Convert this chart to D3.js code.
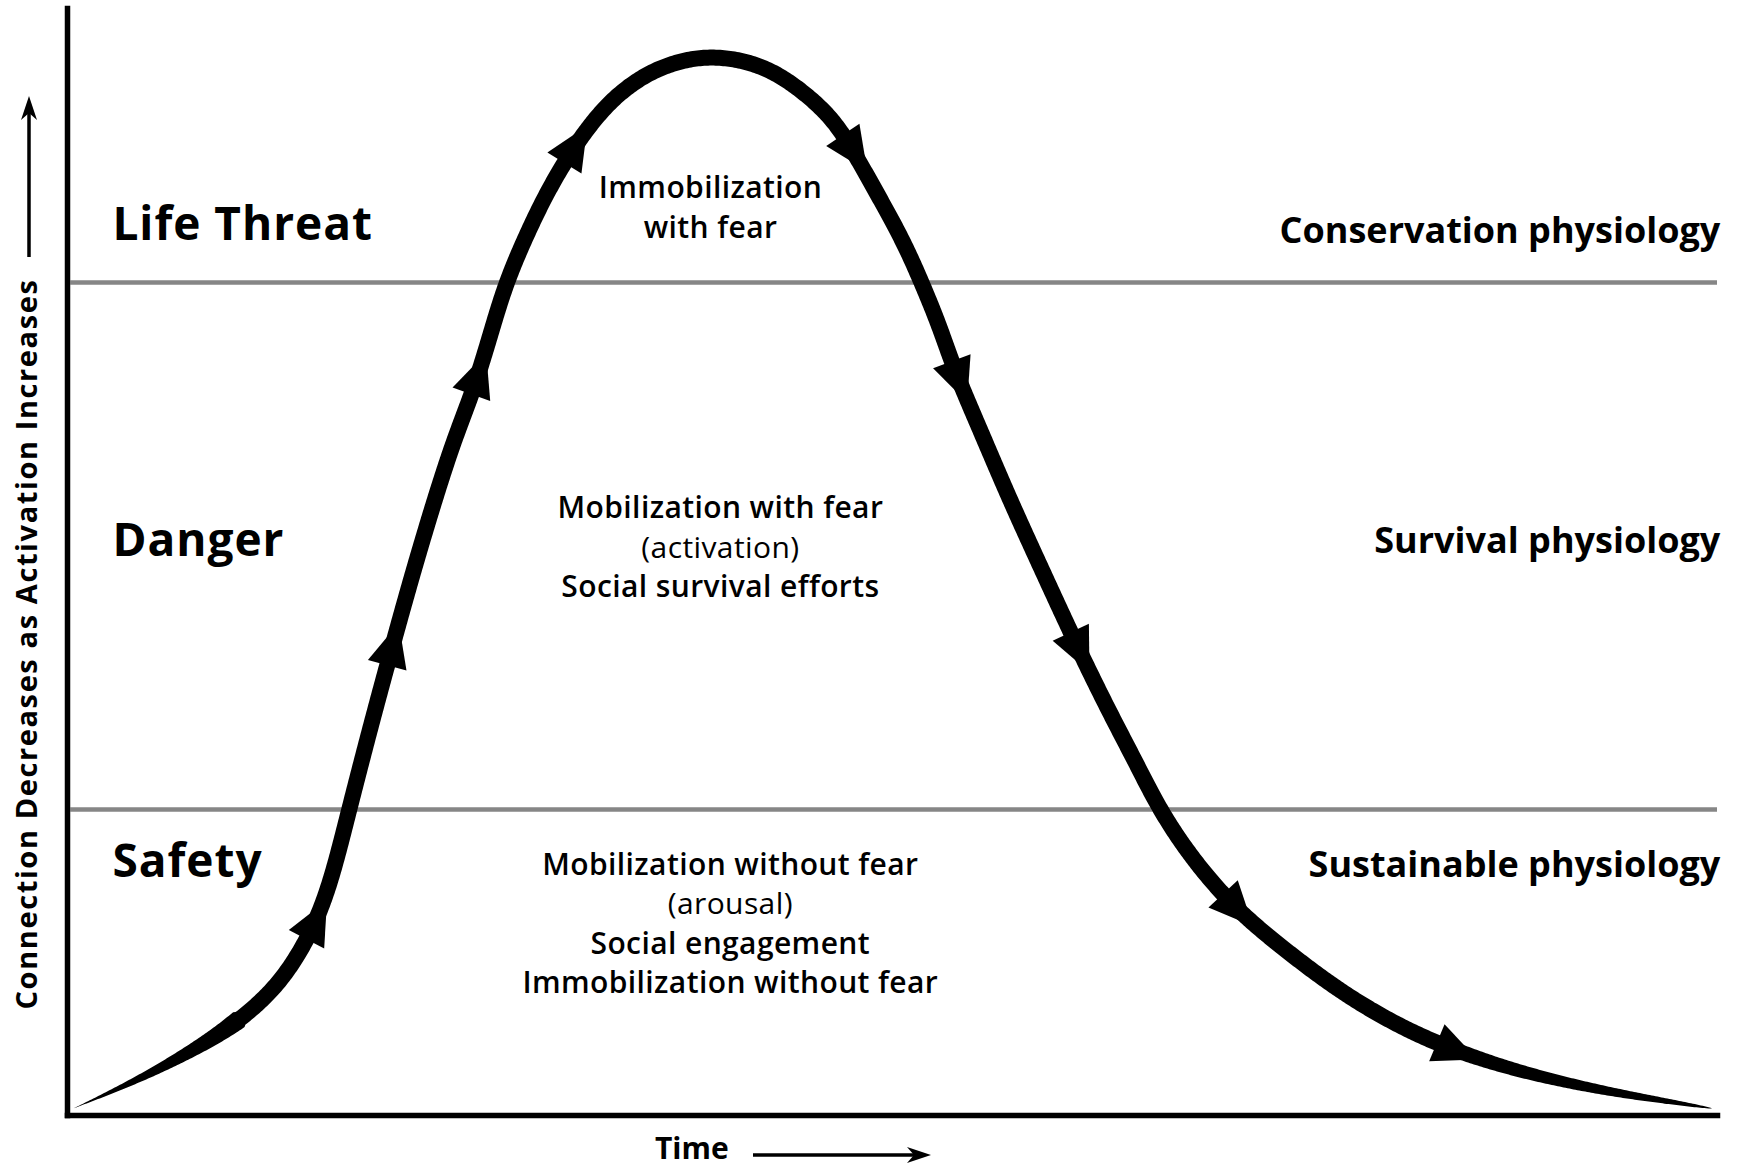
<!DOCTYPE html>
<html>
<head>
<meta charset="utf-8">
<script src="https://cdn.jsdelivr.net/npm/d3@7"></script>
<style>
  body { margin: 0; background: #fff; }
  text { font-family: "Open Sans", Lato, sans-serif; fill: #000; }
</style>
</head>
<body>
<div id="wrapper"></div>
<script>
/*global d3*/

// 1. Data (time and activation, both 0-100)
const curveTime = [0.4, 4.7, 9.4, 12.1, 13.7, 15.1, 16.1, 17.1, 18.4, 19.6, 20.9, 22.3, 23.5, 24.7, 25.7, 26.6, 27.9, 29.2, 30.9, 32.9, 35.2, 37.3, 38.9, 40.6, 42.6, 44.6, 46.5, 47.8, 49.3, 50.7, 51.8, 52.9, 53.8, 55.4, 57.1, 59.1, 61.1, 63.1, 64.8, 66.2, 68.2, 70.8, 73.9, 77.2, 80.6, 83.9, 88.0, 92.7, 96.7, 99.7]
const curveActivation = [0.6, 3.4, 7.3, 10.6, 13.6, 17.4, 21.6, 27.6, 35.1, 41.7, 48.7, 55.7, 61.2, 65.7, 70.7, 75.2, 79.7, 83.7, 87.9, 91.7, 94.2, 95.3, 95.6, 95.4, 94.5, 92.5, 89.9, 86.7, 82.7, 78.9, 75.2, 71.2, 67.2, 61.7, 55.7, 49.2, 42.7, 36.6, 31.8, 27.6, 23.1, 18.6, 14.8, 11.1, 8.1, 5.9, 3.9, 2.3, 1.3, 0.6]
const arrowTimes = [14.5, 19.4, 24.5, 30.1, 47.0, 53.6, 60.8, 70.0, 83.0]

const zoneNames = ["Safety", "Danger", "Life Threat"]
const zoneLimits = [27.6, 75.2]
const physiologyNames = ["Sustainable physiology", "Survival physiology", "Conservation physiology"]
const zoneStates = [
    ["Mobilization without fear", "(arousal)", "Social engagement", "Immobilization without fear"],
    ["Mobilization with fear", "(activation)", "Social survival efforts"],
    ["Immobilization", "with fear"],
]
const yAxisTitle = "Connection Decreases as Activation Increases"
const xAxisTitle = "Time"

// 2. dims
const dims = { width: 1738, height: 1168 }

// label anchors in data units
const zoneLabelY = [21.5, 50.5, 79.0]
const physLabelY = [21.5, 50.8, 78.8]
const stateCenterT = [40.2, 39.6, 39.0]
const stateFirstY = [21.7, 53.9, 82.8]

// 3. canvas
const svg = d3.select("#wrapper")
    .append("svg")
    .attr("width", dims.width)
    .attr("height", dims.height)

// 4. scales
const xScale = d3.scaleLinear().domain([0, 100]).range([67, 1717])
const yScale = d3.scaleLinear().domain([0, 100]).range([1115, 8])
const lineGap = 39.5

// zone lines
svg.selectAll("line.zone")
    .data(zoneLimits)
    .join("line")
    .attr("class", "zone")
    .attr("x1", xScale(0.2))
    .attr("x2", xScale(100))
    .attr("y1", d => yScale(d))
    .attr("y2", d => yScale(d))
    .attr("stroke", "#868686")
    .attr("stroke-width", 4.5)

// axes
svg.append("g")
    .attr("transform", `translate(${xScale(0)},0)`)
    .call(d3.axisLeft(yScale).ticks(0).tickSizeOuter(0))
svg.append("g")
    .attr("transform", `translate(0,${yScale(0)})`)
    .call(d3.axisBottom(xScale).ticks(0).tickSizeOuter(0))
svg.selectAll(".domain")
    .attr("stroke", "#000")
    .attr("stroke-width", 5.5)
    .attr("stroke-linecap", "square")

// 5. curve
const points = curveTime.map((t, i) => ({ t, a: curveActivation[i] }))
const lineGen = d3.line()
    .x(d => xScale(d.t))
    .y(d => yScale(d.a))
    .curve(d3.curveBasis)

const guide = svg.append("path")
    .attr("d", lineGen(points))
    .attr("fill", "none")
    .attr("stroke", "none")
const node = guide.node()
const total = node.getTotalLength()
const samples = d3.range(0, total, 2).concat([total]).map(s => {
    const p = node.getPointAtLength(s)
    return { s, x: p.x, y: p.y }
})

function widthAt(s) {
    const fromEnd = total - s
    if (s < 190) return 19 * s / 190
    if (fromEnd < 280) return 16 * Math.pow(Math.max(fromEnd, 0) / 280, 0.6)
    return 16
}
function tangentAt(i) {
    const a = samples[Math.max(i - 2, 0)]
    const b = samples[Math.min(i + 2, samples.length - 1)]
    const dx = b.x - a.x, dy = b.y - a.y
    const len = Math.hypot(dx, dy) || 1
    return [dx / len, dy / len]
}
const leftSide = [], rightSide = []
samples.forEach((p, i) => {
    const [tx, ty] = tangentAt(i)
    const w = widthAt(p.s) / 2
    leftSide.push([p.x - ty * w, p.y + tx * w])
    rightSide.push([p.x + ty * w, p.y - tx * w])
})
svg.append("path")
    .attr("d", d3.line()(leftSide.concat(rightSide.reverse())) + "Z")
    .attr("fill", "#000")

// arrowheads
const bisectX = d3.bisector(d => d.x).left
svg.selectAll("path.arrow")
    .data(arrowTimes)
    .join("path")
    .attr("class", "arrow")
    .attr("fill", "#000")
    .attr("d", t => {
        const i = Math.min(bisectX(samples, xScale(t)), samples.length - 1)
        const p = samples[i]
        const [tx, ty] = tangentAt(i)
        const len = 44, half = 20
        return d3.line()([
            [p.x + tx * len, p.y + ty * len],
            [p.x - ty * half, p.y + tx * half],
            [p.x + ty * half, p.y - tx * half],
        ]) + "Z"
    })

// zone labels
svg.selectAll("text.zone")
    .data(zoneNames)
    .join("text")
    .attr("class", "zone")
    .attr("x", xScale(2.75))
    .attr("y", (d, i) => yScale(zoneLabelY[i]))
    .style("font-size", "46px")
    .style("font-weight", 700)
    .style("letter-spacing", "1px")
    .text(d => d)

svg.selectAll("text.phys")
    .data(physiologyNames)
    .join("text")
    .attr("class", "phys")
    .attr("x", xScale(100.2))
    .attr("y", (d, i) => yScale(physLabelY[i]))
    .attr("text-anchor", "end")
    .style("font-size", "36px")
    .style("font-weight", 700)
    .text(d => d)

// state blocks
zoneStates.forEach((lines, z) => {
    svg.append("g")
        .selectAll("text")
        .data(lines)
        .join("text")
        .attr("x", xScale(stateCenterT[z]))
        .attr("y", (d, i) => yScale(stateFirstY[z]) + i * lineGap)
        .attr("text-anchor", "middle")
        .style("font-size", "30px")
        .style("font-weight", d => d.startsWith("(") ? 400 : 600)
        .style("letter-spacing", "0.4px")
        .text(d => d)
})

// axis titles
svg.append("g")
    .attr("transform", "translate(37,644) rotate(-90)")
    .append("text")
    .attr("text-anchor", "middle")
    .style("font-size", "29px")
    .style("font-weight", 700)
    .style("letter-spacing", "1.6px")
    .text(yAxisTitle)

svg.append("text")
    .attr("x", 655)
    .attr("y", 1159)
    .style("font-size", "30px")
    .style("font-weight", 700)
    .text(xAxisTitle)

// direction arrows
function drawArrow(x1, y1, x2, y2) {
    const dx = x2 - x1, dy = y2 - y1
    const len = Math.hypot(dx, dy)
    const ux = dx / len, uy = dy / len
    const hl = 21, hw = 8
    const bx = x2 - ux * hl, by = y2 - uy * hl
    svg.append("line")
        .attr("x1", x1).attr("y1", y1)
        .attr("x2", bx + ux * 4).attr("y2", by + uy * 4)
        .attr("stroke", "#000")
        .attr("stroke-width", 3.5)
    svg.append("path")
        .attr("fill", "#000")
        .attr("d", d3.line()([
            [x2, y2],
            [bx - uy * hw - ux * 3, by + ux * hw - uy * 3],
            [bx + ux * 4, by + uy * 4],
            [bx + uy * hw - ux * 3, by - ux * hw - uy * 3],
        ]) + "Z")
}
drawArrow(29, 257, 29, 96)
drawArrow(753, 1155, 931, 1155)
</script>
</body>
</html>
